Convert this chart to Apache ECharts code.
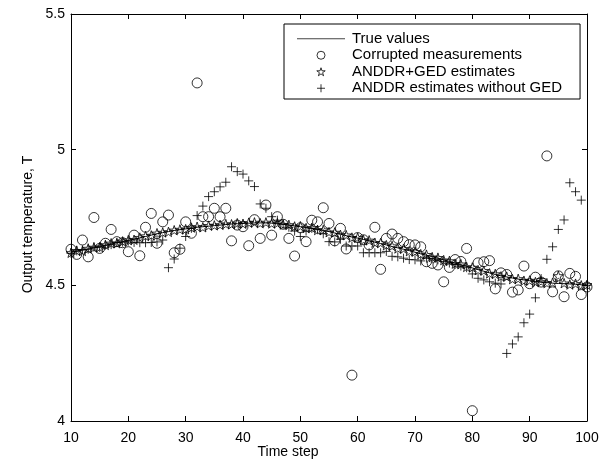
<!DOCTYPE html>
<html><head><meta charset="utf-8">
<script src="https://cdn.jsdelivr.net/npm/echarts@6/dist/echarts.min.js"></script>
<style>html,body{margin:0;padding:0;background:#fff}#c{width:610px;height:462px}</style>
</head><body><div id="c"></div>
<script>
const timeSteps = [10,11,12,13,14,15,16,17,18,19,
 20,21,22,23,24,25,26,27,28,29,
 30,31,32,33,34,35,36,37,38,39,
 40,41,42,43,44,45,46,47,48,49,
 50,51,52,53,54,55,56,57,58,59,
 60,61,62,63,64,65,66,67,68,69,
 70,71,72,73,74,75,76,77,78,79,
 80,81,82,83,84,85,86,87,88,89,
 90,91,92,93,94,95,96,97,98,99,
 100];
const trueValues = [4.622,4.625,4.630,4.634,4.638,4.642,4.647,4.652,4.657,4.661,
 4.665,4.670,4.675,4.680,4.685,4.690,4.694,4.698,4.702,4.705,
 4.708,4.711,4.714,4.716,4.718,4.720,4.722,4.724,4.726,4.727,
 4.728,4.729,4.730,4.730,4.730,4.729,4.727,4.725,4.722,4.719,
 4.716,4.713,4.710,4.706,4.702,4.698,4.693,4.688,4.683,4.678,
 4.674,4.669,4.664,4.659,4.654,4.649,4.643,4.638,4.633,4.628,
 4.622,4.616,4.611,4.606,4.600,4.594,4.588,4.582,4.576,4.570,
 4.564,4.558,4.552,4.546,4.540,4.535,4.531,4.527,4.523,4.520,
 4.517,4.514,4.512,4.510,4.508,4.507,4.506,4.505,4.504,4.502,
 4.500];
const corrupted = [4.633,4.614,4.667,4.605,4.750,4.636,4.655,4.706,4.661,4.657,
 4.624,4.685,4.609,4.714,4.765,4.655,4.734,4.759,4.620,4.633,
 4.734,4.692,5.246,4.753,4.753,4.784,4.753,4.784,4.664,4.722,
 4.716,4.646,4.742,4.673,4.796,4.685,4.753,4.725,4.673,4.608,
 4.712,4.661,4.740,4.734,4.786,4.728,4.664,4.710,4.634,4.169,
 4.676,4.668,4.649,4.714,4.559,4.673,4.689,4.673,4.661,4.650,
 4.649,4.642,4.587,4.581,4.575,4.513,4.566,4.595,4.588,4.636,
 4.038,4.583,4.587,4.591,4.487,4.546,4.540,4.475,4.483,4.571,
 4.506,4.530,4.512,4.977,4.476,4.535,4.458,4.544,4.533,4.466,
 4.494];
const gedEstimates = [4.620,4.628,4.627,4.636,4.640,4.641,4.649,4.655,4.655,4.662,
 4.667,4.668,4.676,4.682,4.684,4.692,4.695,4.697,4.703,4.706,
 4.707,4.713,4.716,4.714,4.720,4.721,4.723,4.726,4.725,4.729,
 4.727,4.731,4.732,4.729,4.732,4.728,4.729,4.724,4.723,4.717,
 4.718,4.711,4.712,4.704,4.704,4.696,4.695,4.686,4.685,4.676,
 4.676,4.667,4.666,4.657,4.656,4.648,4.645,4.636,4.635,4.626,
 4.624,4.615,4.613,4.604,4.602,4.593,4.590,4.580,4.578,4.568,
 4.566,4.556,4.554,4.544,4.542,4.533,4.532,4.523,4.524,4.517,
 4.518,4.512,4.514,4.508,4.510,4.535,4.508,4.503,4.506,4.500,
 4.502];
const noGedEstimates = [4.618,4.627,4.631,4.633,4.641,4.640,4.648,4.650,4.658,4.659,
 4.663,4.658,4.657,4.657,4.658,4.660,4.667,4.565,4.597,4.637,
 4.680,4.710,4.757,4.792,4.827,4.845,4.863,4.880,4.937,4.919,
 4.910,4.885,4.864,4.800,4.784,4.753,4.740,4.725,4.714,4.700,
 4.680,4.700,4.710,4.705,4.690,4.661,4.660,4.670,4.645,4.645,
 4.645,4.620,4.620,4.620,4.620,4.625,4.607,4.605,4.600,4.595,
 4.594,4.590,4.600,4.598,4.594,4.588,4.582,4.577,4.571,4.565,
 4.542,4.526,4.520,4.513,4.508,4.505,4.249,4.284,4.310,4.362,
 4.394,4.454,4.525,4.596,4.642,4.706,4.741,4.878,4.845,4.814,
 4.500];
const seriesNames = ['True values','Corrupted measurements','ANDDR+GED estimates','ANDDR estimates without GED'];
const xLabel = 'Time step';
const yLabel = 'Output temperature, T';

const pair = arr => timeSteps.map((t, i) => [t, arr[i]]);
const font = '"Liberation Sans", Arial, Helvetica, sans-serif';
const starPath = 'path://M0,-100L22.5,-30.9L95.1,-30.9L36.3,11.8L58.8,80.9L0,38.2L-58.8,80.9L-36.3,11.8L-95.1,-30.9L-22.5,-30.9Z';
const plusPath = 'path://M5,0L5,10M0,5L10,5';
const lineIcon = 'path://M0,0L48,0L48,1L0,1Z';
const axisCommon = {
  type: 'value',
  nameMoveOverlap: false,
  axisLine: { show: true, onZero: false, lineStyle: { color: '#000', width: 1 } },
  axisTick: { show: true, inside: true, length: 5, lineStyle: { color: '#000', width: 1 } },
  splitLine: { show: false }
};
const labelStyle = { color: '#000', fontSize: 14, fontFamily: font };

const chart = echarts.init(document.getElementById('c'), null, { renderer: 'canvas' });
chart.setOption({
  animation: false,
  backgroundColor: '#fff',
  grid: { left: 71, right: 23, top: 14, bottom: 41, containLabel: false, outerBoundsMode: 'none' },
  xAxis: [
    Object.assign({}, axisCommon, { min: 10, max: 100, interval: 10, position: 'bottom',
      axisLabel: Object.assign({ margin: 10 }, labelStyle),
      name: xLabel, nameLocation: 'middle', nameGap: 24,
      nameTextStyle: Object.assign({ padding: [0, 82, 0, 0] }, labelStyle) }),
    Object.assign({}, axisCommon, { min: 10, max: 100, interval: 10, position: 'top',
      axisLabel: { show: false } })
  ],
  yAxis: [
    Object.assign({}, axisCommon, { min: 4, max: 5.5, interval: 0.5, position: 'left',
      axisLabel: Object.assign({ margin: 6 }, labelStyle),
      name: yLabel, nameLocation: 'middle', nameGap: 36,
      nameTextStyle: Object.assign({ padding: [0, 14, 0, 0] }, labelStyle) }),
    Object.assign({}, axisCommon, { min: 4, max: 5.5, interval: 0.5, position: 'right',
      axisLabel: { show: false } })
  ],
  legend: {
    orient: 'vertical', left: 284, top: 24,
    backgroundColor: '#fff', borderColor: '#000', borderWidth: 1, borderRadius: 0,
    padding: [7, 18, 3, 13],
    itemWidth: 48, itemHeight: 8, itemGap: 1,
    symbolKeepAspect: true,
    textStyle: { color: '#000', fontSize: 15, fontFamily: font, lineHeight: 15.5, padding: [0, 0, 0, 2] },
    itemStyle: { borderWidth: 1 },
    data: [
      { name: seriesNames[0], icon: lineIcon, itemStyle: { color: '#444', borderWidth: 0 } },
      { name: seriesNames[1] },
      { name: seriesNames[2] },
      { name: seriesNames[3] }
    ]
  },
  series: [
    { name: seriesNames[0], type: 'line', data: pair(trueValues), symbol: 'none', showSymbol: false,
      lineStyle: { color: '#000', width: 1 }, itemStyle: { color: '#000' }, z: 2 },
    { name: seriesNames[1], type: 'scatter', data: pair(corrupted), symbol: 'circle', symbolSize: 10,
      itemStyle: { color: 'rgba(0,0,0,0)', borderColor: '#000', borderWidth: 1 }, z: 3 },
    { name: seriesNames[2], type: 'scatter', data: pair(gedEstimates), symbol: starPath, symbolSize: 10,
      symbolKeepAspect: true,
      itemStyle: { color: 'rgba(0,0,0,0)', borderColor: '#000', borderWidth: 1 }, z: 3 },
    { name: seriesNames[3], type: 'scatter', data: pair(noGedEstimates), symbol: plusPath, symbolSize: 9,
      itemStyle: { color: 'rgba(0,0,0,0)', borderColor: '#000', borderWidth: 1 }, z: 3 }
  ]
});
</script></body></html>
